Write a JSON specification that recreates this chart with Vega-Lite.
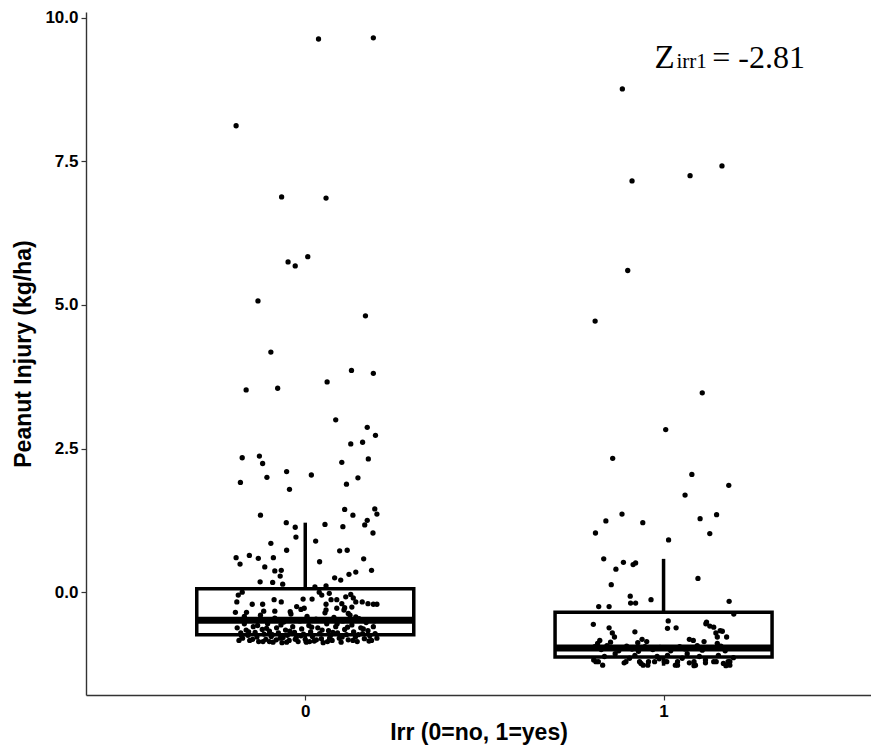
{
  "$schema": "https://vega.github.io/schema/vega-lite/v6.json",
  "width": 785,
  "height": 683,
  "autosize": {"type": "none"},
  "padding": {"left": 86, "top": 12, "right": 0, "bottom": 56},
  "background": "white",
  "config": {
    "view": {"stroke": null},
    "axis": {
      "grid": false,
      "domainColor": "#333333",
      "domainWidth": 1.4,
      "tickColor": "#333333",
      "tickWidth": 1.2,
      "tickSize": 5,
      "labelFont": "Liberation Sans",
      "labelFontWeight": "bold",
      "labelFontSize": 17,
      "labelColor": "black",
      "labelPadding": 3,
      "titleFont": "Liberation Sans",
      "titleFontWeight": "bold",
      "titleFontSize": 23,
      "titleColor": "black"
    }
  },
  "datasets": {
    "pts": [
      {"g":0,"x":-0.193,"y":8.12},{"g":0,"x":0.037,"y":9.63},{"g":0,"x":0.19,"y":9.65},
      {"g":0,"x":-0.066,"y":6.88},{"g":0,"x":0.058,"y":6.86},
      {"g":0,"x":-0.048,"y":5.75},{"g":0,"x":-0.028,"y":5.68},{"g":0,"x":0.007,"y":5.84},
      {"g":0,"x":-0.132,"y":5.07},{"g":0,"x":0.168,"y":4.81},{"g":0,"x":-0.096,"y":4.18},
      {"g":0,"x":0.129,"y":3.86},{"g":0,"x":0.19,"y":3.81},{"g":0,"x":-0.165,"y":3.52},
      {"g":0,"x":-0.077,"y":3.55},{"g":0,"x":0.061,"y":3.66},{"g":0,"x":0.085,"y":3.0},
      {"g":0,"x":0.173,"y":2.87},{"g":0,"x":0.196,"y":2.73},{"g":0,"x":0.127,"y":2.58},
      {"g":0,"x":0.16,"y":2.61},{"g":0,"x":-0.176,"y":2.34},{"g":0,"x":-0.128,"y":2.37},
      {"g":0,"x":-0.119,"y":2.24},{"g":0,"x":0.102,"y":2.26},{"g":0,"x":0.176,"y":2.32},
      {"g":0,"x":-0.052,"y":2.1},{"g":0,"x":0.017,"y":2.04},{"g":0,"x":-0.107,"y":2.0},
      {"g":0,"x":-0.181,"y":1.91},{"g":0,"x":0.115,"y":1.88},{"g":0,"x":0.147,"y":1.99},
      {"g":0,"x":-0.044,"y":1.79},{"g":0,"x":-0.125,"y":1.34},{"g":0,"x":0.11,"y":1.44},
      {"g":0,"x":0.133,"y":1.34},{"g":0,"x":0.194,"y":1.45},{"g":0,"x":0.2,"y":1.36},
      {"g":0,"x":0.173,"y":1.25},{"g":0,"x":0.166,"y":1.17},{"g":0,"x":-0.053,"y":1.21},
      {"g":0,"x":-0.028,"y":1.13},{"g":0,"x":0.055,"y":1.18},{"g":0,"x":0.105,"y":1.14},
      {"g":0,"x":0.189,"y":1.03},{"g":0,"x":-0.026,"y":0.96},{"g":0,"x":0.029,"y":0.89},
      {"g":0,"x":-0.096,"y":0.85},{"g":0,"x":-0.052,"y":0.73},{"g":0,"x":0.096,"y":0.72},
      {"g":0,"x":0.117,"y":0.73},{"g":0,"x":-0.193,"y":0.6},{"g":0,"x":-0.156,"y":0.64},
      {"g":0,"x":-0.131,"y":0.59},{"g":0,"x":-0.089,"y":0.6},{"g":0,"x":-0.182,"y":0.49},
      {"g":0,"x":0.04,"y":0.53},{"g":0,"x":0.163,"y":0.58},{"g":0,"x":-0.113,"y":0.44},
      {"g":0,"x":-0.085,"y":0.37},{"g":0,"x":-0.067,"y":0.38},{"g":0,"x":-0.07,"y":0.28},
      {"g":0,"x":0.185,"y":0.38},{"g":0,"x":0.141,"y":0.35},{"g":0,"x":0.122,"y":0.31},
      {"g":0,"x":0.082,"y":0.25},{"g":0,"x":0.099,"y":0.21},{"g":0,"x":-0.126,"y":0.18},
      {"g":0,"x":-0.091,"y":0.17},{"g":0,"x":-0.063,"y":0.14},{"g":0,"x":0.058,"y":0.11},
      {"g":0,"x":0.027,"y":0.09},
      {"g":0,"x":-0.176,"y":0.0},{"g":0,"x":-0.187,"y":-0.05},{"g":0,"x":-0.191,"y":-0.17},
      {"g":0,"x":-0.148,"y":-0.21},{"g":0,"x":-0.119,"y":-0.21},{"g":0,"x":-0.087,"y":-0.13},
      {"g":0,"x":-0.067,"y":-0.17},{"g":0,"x":-0.006,"y":-0.12},{"g":0,"x":0.019,"y":-0.12},
      {"g":0,"x":0.039,"y":0.0},{"g":0,"x":0.046,"y":-0.05},{"g":0,"x":0.067,"y":-0.02},
      {"g":0,"x":0.058,"y":-0.21},{"g":0,"x":0.072,"y":-0.13},{"g":0,"x":0.088,"y":-0.13},
      {"g":0,"x":0.102,"y":-0.2},{"g":0,"x":0.113,"y":-0.08},{"g":0,"x":0.127,"y":-0.04},
      {"g":0,"x":0.134,"y":-0.1},{"g":0,"x":0.141,"y":-0.17},{"g":0,"x":0.159,"y":-0.17},
      {"g":0,"x":0.175,"y":-0.2},{"g":0,"x":0.19,"y":-0.21},{"g":0,"x":0.2,"y":-0.21},
      {"g":0,"x":0.108,"y":-0.31},{"g":0,"x":0.088,"y":-0.28},{"g":0,"x":0.058,"y":-0.31},
      {"g":0,"x":-0.195,"y":-0.35},{"g":0,"x":-0.164,"y":-0.35},{"g":0,"x":-0.116,"y":-0.33},
      {"g":0,"x":-0.085,"y":-0.33},{"g":0,"x":-0.042,"y":-0.34},{"g":0,"x":-0.012,"y":-0.3},
      {"g":0,"x":0.141,"y":-0.43},{"g":0,"x":0.12,"y":-0.37},{"g":0,"x":-0.024,"y":-0.25},
      {"g":0,"x":-0.003,"y":-0.28},{"g":0,"x":0.11,"y":-0.27},{"g":0,"x":0.13,"y":-0.26},
      {"g":0,"x":-0.19,"y":-0.62},{"g":0,"x":-0.18,"y":-0.71},{"g":0,"x":-0.175,"y":-0.8},
      {"g":0,"x":-0.17,"y":-0.55},{"g":0,"x":-0.165,"y":-0.66},{"g":0,"x":-0.16,"y":-0.75},
      {"g":0,"x":-0.155,"y":-0.84},{"g":0,"x":-0.15,"y":-0.48},{"g":0,"x":-0.145,"y":-0.6},
      {"g":0,"x":-0.14,"y":-0.7},{"g":0,"x":-0.135,"y":-0.78},{"g":0,"x":-0.13,"y":-0.86},
      {"g":0,"x":-0.125,"y":-0.4},{"g":0,"x":-0.12,"y":-0.65},{"g":0,"x":-0.115,"y":-0.73},
      {"g":0,"x":-0.11,"y":-0.82},{"g":0,"x":-0.105,"y":-0.55},{"g":0,"x":-0.1,"y":-0.68},
      {"g":0,"x":-0.095,"y":-0.77},{"g":0,"x":-0.09,"y":-0.87},{"g":0,"x":-0.085,"y":-0.45},
      {"g":0,"x":-0.08,"y":-0.62},{"g":0,"x":-0.075,"y":-0.71},{"g":0,"x":-0.07,"y":-0.8},
      {"g":0,"x":-0.065,"y":-0.88},{"g":0,"x":-0.06,"y":-0.52},{"g":0,"x":-0.055,"y":-0.66},
      {"g":0,"x":-0.05,"y":-0.75},{"g":0,"x":-0.045,"y":-0.84},{"g":0,"x":-0.04,"y":-0.38},
      {"g":0,"x":-0.035,"y":-0.6},{"g":0,"x":-0.03,"y":-0.7},{"g":0,"x":-0.025,"y":-0.79},
      {"g":0,"x":-0.02,"y":-0.86},{"g":0,"x":-0.015,"y":-0.5},{"g":0,"x":-0.01,"y":-0.64},
      {"g":0,"x":-0.005,"y":-0.73},{"g":0,"x":0.0,"y":-0.82},{"g":0,"x":0.005,"y":-0.42},
      {"g":0,"x":0.01,"y":-0.58},{"g":0,"x":0.015,"y":-0.69},{"g":0,"x":0.02,"y":-0.77},
      {"g":0,"x":0.025,"y":-0.85},{"g":0,"x":0.03,"y":-0.47},{"g":0,"x":0.035,"y":-0.62},
      {"g":0,"x":0.04,"y":-0.72},{"g":0,"x":0.045,"y":-0.81},{"g":0,"x":0.05,"y":-0.88},
      {"g":0,"x":0.055,"y":-0.36},{"g":0,"x":0.06,"y":-0.55},{"g":0,"x":0.065,"y":-0.67},
      {"g":0,"x":0.07,"y":-0.76},{"g":0,"x":0.075,"y":-0.84},{"g":0,"x":0.08,"y":-0.44},
      {"g":0,"x":0.085,"y":-0.6},{"g":0,"x":0.09,"y":-0.71},{"g":0,"x":0.095,"y":-0.8},
      {"g":0,"x":0.1,"y":-0.87},{"g":0,"x":0.105,"y":-0.5},{"g":0,"x":0.11,"y":-0.65},
      {"g":0,"x":0.115,"y":-0.74},{"g":0,"x":0.12,"y":-0.83},{"g":0,"x":0.125,"y":-0.4},
      {"g":0,"x":0.13,"y":-0.57},{"g":0,"x":0.135,"y":-0.69},{"g":0,"x":0.14,"y":-0.78},
      {"g":0,"x":0.145,"y":-0.86},{"g":0,"x":0.15,"y":-0.46},{"g":0,"x":0.155,"y":-0.62},
      {"g":0,"x":0.16,"y":-0.72},{"g":0,"x":0.165,"y":-0.81},{"g":0,"x":0.17,"y":-0.53},
      {"g":0,"x":0.175,"y":-0.67},{"g":0,"x":0.18,"y":-0.76},{"g":0,"x":0.185,"y":-0.84},
      {"g":0,"x":0.19,"y":-0.6},{"g":0,"x":0.195,"y":-0.72},{"g":0,"x":0.2,"y":-0.8},
      {"g":0,"x":-0.185,"y":-0.84},{"g":0,"x":-0.17,"y":-0.42},{"g":0,"x":-0.158,"y":-0.69},
      {"g":0,"x":-0.147,"y":-0.82},{"g":0,"x":-0.133,"y":-0.58},{"g":0,"x":-0.118,"y":-0.86},
      {"g":0,"x":-0.108,"y":-0.63},{"g":0,"x":-0.092,"y":-0.74},{"g":0,"x":-0.081,"y":-0.83},
      {"g":0,"x":-0.068,"y":-0.57},{"g":0,"x":-0.052,"y":-0.87},{"g":0,"x":-0.043,"y":-0.68},
      {"g":0,"x":-0.028,"y":-0.82},{"g":0,"x":-0.012,"y":-0.76},{"g":0,"x":0.003,"y":-0.87},
      {"g":0,"x":0.018,"y":-0.61},{"g":0,"x":0.031,"y":-0.83},{"g":0,"x":0.047,"y":-0.66},
      {"g":0,"x":0.062,"y":-0.86},{"g":0,"x":0.077,"y":-0.7},{"g":0,"x":0.089,"y":-0.55},
      {"g":0,"x":0.103,"y":-0.78},{"g":0,"x":0.118,"y":-0.61},{"g":0,"x":0.133,"y":-0.84},
      {"g":0,"x":0.148,"y":-0.74},{"g":0,"x":0.162,"y":-0.64},{"g":0,"x":0.178,"y":-0.85},
      {"g":0,"x":0.192,"y":-0.5},{"g":0,"x":-0.062,"y":-0.79},{"g":0,"x":-0.1,"y":-0.86},
      {"g":0,"x":0.012,"y":-0.86},{"g":0,"x":0.068,"y":-0.8},{"g":0,"x":-0.178,"y":-0.76},
      {"g":1,"x":0.885,"y":8.76},{"g":1,"x":0.912,"y":7.16},{"g":1,"x":1.074,"y":7.25},
      {"g":1,"x":1.163,"y":7.42},{"g":1,"x":0.9,"y":5.6},{"g":1,"x":0.809,"y":4.72},
      {"g":1,"x":1.108,"y":3.47},{"g":1,"x":1.006,"y":2.83},{"g":1,"x":0.858,"y":2.33},
      {"g":1,"x":1.079,"y":2.05},{"g":1,"x":1.182,"y":1.86},{"g":1,"x":1.06,"y":1.69},
      {"g":1,"x":0.884,"y":1.36},{"g":1,"x":0.839,"y":1.24},{"g":1,"x":0.942,"y":1.21},
      {"g":1,"x":1.102,"y":1.28},{"g":1,"x":1.148,"y":1.35},{"g":1,"x":0.81,"y":1.03},
      {"g":1,"x":1.129,"y":1.02},{"g":1,"x":1.014,"y":0.91},{"g":1,"x":0.833,"y":0.58},
      {"g":1,"x":0.888,"y":0.52},{"g":1,"x":0.867,"y":0.4},{"g":1,"x":0.915,"y":0.48},
      {"g":1,"x":0.922,"y":0.51},{"g":1,"x":1.096,"y":0.24},{"g":1,"x":0.854,"y":0.13},
      {"g":1,"x":0.907,"y":-0.07},{"g":1,"x":0.908,"y":-0.19},{"g":1,"x":0.922,"y":-0.19},
      {"g":1,"x":0.965,"y":-0.13},{"g":1,"x":1.183,"y":-0.16},{"g":1,"x":0.819,"y":-0.25},
      {"g":1,"x":0.848,"y":-0.25},{"g":1,"x":1.196,"y":-0.38},{"g":1,"x":0.804,"y":-0.56},
      {"g":1,"x":0.848,"y":-0.62},{"g":1,"x":1.013,"y":-0.5},{"g":1,"x":1.011,"y":-0.63},
      {"g":1,"x":1.035,"y":-0.62},{"g":1,"x":1.12,"y":-0.52},{"g":1,"x":1.129,"y":-0.59},
      {"g":1,"x":1.14,"y":-0.61},{"g":1,"x":1.158,"y":-0.67},{"g":1,"x":0.92,"y":-0.69},
      {"g":1,"x":0.857,"y":-0.71},{"g":1,"x":0.863,"y":-0.78},{"g":1,"x":1.146,"y":-0.71},
      {"g":1,"x":1.15,"y":-0.78},{"g":1,"x":1.176,"y":-0.78},{"g":1,"x":1.072,"y":-0.82},
      {"g":1,"x":1.083,"y":-0.84},{"g":1,"x":0.94,"y":-0.82},{"g":1,"x":0.953,"y":-0.86},
      {"g":1,"x":0.822,"y":-0.84},{"g":1,"x":0.816,"y":-0.89},{"g":1,"x":0.928,"y":-0.88},
      {"g":1,"x":1.113,"y":-0.86},{"g":1,"x":0.852,"y":-0.87},{"g":1,"x":1.118,"y":-0.55},
      {"g":1,"x":1.15,"y":-0.89},{"g":1,"x":1.164,"y":-0.68},
      {"g":1,"x":0.811,"y":-1.21},{"g":1,"x":0.83,"y":-1.27},{"g":1,"x":0.89,"y":-1.23},
      {"g":1,"x":0.937,"y":-1.24},{"g":1,"x":0.956,"y":-1.27},{"g":1,"x":1.009,"y":-1.21},
      {"g":1,"x":1.033,"y":-1.27},{"g":1,"x":1.072,"y":-1.23},{"g":1,"x":1.085,"y":-1.28},
      {"g":1,"x":1.117,"y":-1.23},{"g":1,"x":1.147,"y":-1.21},{"g":1,"x":1.174,"y":-1.28},
      {"g":1,"x":1.185,"y":-1.21},
      {"g":1,"x":0.805,"y":-1.18},{"g":1,"x":0.818,"y":-1.21},{"g":1,"x":0.865,"y":-1.07},
      {"g":1,"x":0.895,"y":-1.21},{"g":1,"x":0.92,"y":-1.1},{"g":1,"x":0.933,"y":-1.21},
      {"g":1,"x":0.943,"y":-1.27},{"g":1,"x":0.958,"y":-1.21},{"g":1,"x":0.975,"y":-1.21},
      {"g":1,"x":0.988,"y":-1.16},{"g":1,"x":1.002,"y":-1.21},{"g":1,"x":1.011,"y":-1.1},
      {"g":1,"x":1.039,"y":-1.21},{"g":1,"x":1.039,"y":-1.27},{"g":1,"x":1.066,"y":-1.07},
      {"g":1,"x":1.085,"y":-1.21},{"g":1,"x":1.089,"y":-1.27},{"g":1,"x":1.117,"y":-1.18},
      {"g":1,"x":1.14,"y":-1.21},{"g":1,"x":1.153,"y":-1.1},{"g":1,"x":1.167,"y":-1.24},
      {"g":1,"x":1.18,"y":-1.21},{"g":1,"x":1.185,"y":-1.27},
      {"g":1,"x":0.808,"y":-0.95},{"g":1,"x":0.826,"y":-1.0},{"g":1,"x":0.842,"y":-0.93},
      {"g":1,"x":0.86,"y":-0.98},{"g":1,"x":0.875,"y":-1.02},{"g":1,"x":0.897,"y":-0.94},
      {"g":1,"x":0.912,"y":-0.99},{"g":1,"x":0.93,"y":-1.03},{"g":1,"x":0.948,"y":-0.95},
      {"g":1,"x":0.97,"y":-1.0},{"g":1,"x":0.99,"y":-0.96},{"g":1,"x":1.02,"y":-1.02},
      {"g":1,"x":1.045,"y":-0.95},{"g":1,"x":1.06,"y":-0.99},{"g":1,"x":1.094,"y":-0.93},
      {"g":1,"x":1.108,"y":-1.01},{"g":1,"x":1.13,"y":-0.97},{"g":1,"x":1.16,"y":-0.94},
      {"g":1,"x":1.172,"y":-1.02},{"g":1,"x":1.19,"y":-0.97},{"g":1,"x":0.835,"y":-1.12},
      {"g":1,"x":0.905,"y":-1.15},{"g":1,"x":0.982,"y":-1.12},{"g":1,"x":1.052,"y":-1.15},
      {"g":1,"x":1.1,"y":-1.12},{"g":1,"x":1.195,"y":-1.14}
    ],
    "box": [
      {"g":0,"q1":-0.74,"q3":0.06,"med":-0.49,"lo":-0.88,"hi":1.21},
      {"g":1,"q1":-1.13,"q3":-0.35,"med":-0.97,"lo":-1.28,"hi":0.58}
    ]
  },
  "layer": [
    {
      "data": {"name": "box"},
      "mark": {"type": "rule", "color": "black", "strokeWidth": 3.5},
      "encoding": {
        "x": {"field": "g", "type": "quantitative", "scale": {"domain": [-0.598, 1.565], "nice": false, "zero": false},
              "axis": {"values": [0, 1], "format": "d", "title": "Irr (0=no, 1=yes)", "titlePadding": 2}},
        "y": {"field": "q3", "type": "quantitative", "scale": {"domain": [-1.79, 10.1], "nice": false, "zero": false},
              "axis": {"values": [0, 2.5, 5, 7.5, 10], "format": ".1f", "title": "Peanut Injury (kg/ha)", "titlePadding": 9}},
        "y2": {"field": "hi"}
      }
    },
    {
      "data": {"name": "box"},
      "mark": {"type": "rule", "color": "black", "strokeWidth": 3.5},
      "encoding": {
        "x": {"field": "g", "type": "quantitative"},
        "y": {"field": "lo", "type": "quantitative"},
        "y2": {"field": "q1"}
      }
    },
    {
      "data": {"name": "box"},
      "mark": {"type": "bar", "size": 217, "filled": false, "color": "black", "strokeWidth": 3.5},
      "encoding": {
        "x": {"field": "g", "type": "quantitative"},
        "y": {"field": "q1", "type": "quantitative"},
        "y2": {"field": "q3"}
      }
    },
    {
      "data": {"name": "box"},
      "mark": {"type": "tick", "orient": "horizontal", "size": 218, "thickness": 7, "color": "black", "opacity": 1},
      "encoding": {
        "x": {"field": "g", "type": "quantitative"},
        "y": {"field": "med", "type": "quantitative"}
      }
    },
    {
      "data": {"name": "pts"},
      "mark": {"type": "circle", "size": 28, "color": "black", "opacity": 1},
      "encoding": {
        "x": {"field": "x", "type": "quantitative"},
        "y": {"field": "y", "type": "quantitative"}
      }
    },
    {
      "data": {"values": [{"t": "Z", "x": 0.975, "y": 9.13}]},
      "mark": {"type": "text", "font": "Liberation Serif", "fontSize": 33, "align": "left", "baseline": "alphabetic", "color": "black"},
      "encoding": {
        "x": {"field": "x", "type": "quantitative"},
        "y": {"field": "y", "type": "quantitative"},
        "text": {"field": "t"}
      }
    },
    {
      "data": {"values": [{"t": "irr1", "x": 1.036, "y": 9.13}]},
      "mark": {"type": "text", "font": "Liberation Serif", "fontSize": 21, "align": "left", "baseline": "alphabetic", "color": "black"},
      "encoding": {
        "x": {"field": "x", "type": "quantitative"},
        "y": {"field": "y", "type": "quantitative"},
        "text": {"field": "t"}
      }
    },
    {
      "data": {"values": [{"t": "= -2.81", "x": 1.136, "y": 9.13}]},
      "mark": {"type": "text", "font": "Liberation Serif", "fontSize": 32, "align": "left", "baseline": "alphabetic", "color": "black"},
      "encoding": {
        "x": {"field": "x", "type": "quantitative"},
        "y": {"field": "y", "type": "quantitative"},
        "text": {"field": "t"}
      }
    }
  ]
}
